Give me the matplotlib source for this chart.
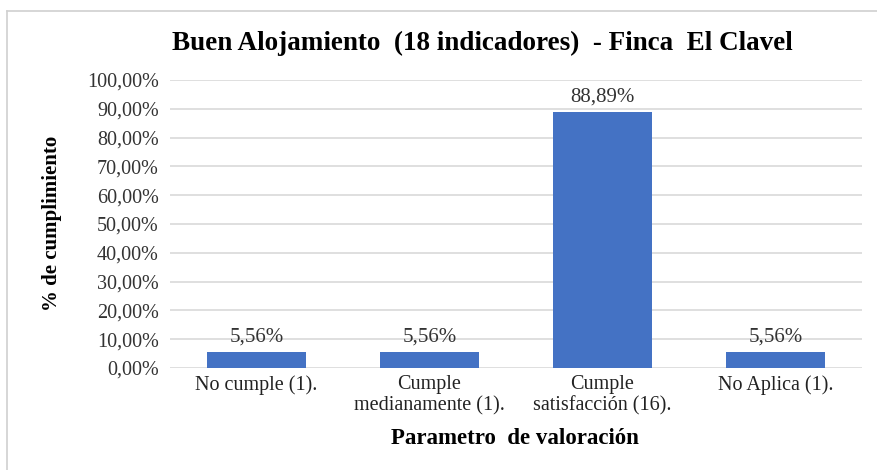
import matplotlib.pyplot as plt
import matplotlib
from matplotlib.lines import Line2D
from matplotlib.ticker import FuncFormatter

matplotlib.rcParams['font.family'] = 'Liberation Serif'

categories = ["No cumple (1).", "Cumple\nmedianamente (1).",
              "Cumple\nsatisfacción (16).", "No Aplica (1)."]
values = [5.56, 5.56, 88.89, 5.56]
yticks = [0, 10, 20, 30, 40, 50, 60, 70, 80, 90, 100]

W, H = 878, 470
fig = plt.figure(figsize=(W / 100, H / 100), dpi=100)
ax = fig.add_axes([170 / W, 1 - 368 / H, 692 / W, 288 / H])

x = range(len(categories))
bars = ax.bar(x, values, width=0.57, color='#4472C4', zorder=3)

ax.set_ylim(0, 100)
ax.set_xlim(-0.5, len(categories) - 0.5)
ax.set_yticks(yticks)
ax.yaxis.set_major_formatter(FuncFormatter(lambda v, p: f"{v:.2f}%".replace('.', ',')))
ax.set_xticks(list(x))
ax.set_xticklabels(categories, fontsize=14.5, linespacing=1.15, color='#222222')
ax.tick_params(axis='y', labelsize=14.5, length=0, pad=8, colors='#333333')
ax.tick_params(axis='x', length=0, pad=5)
ax.grid(axis='y', color='#D9D9D9', linewidth=1.2, zorder=0)
for s in ax.spines.values():
    s.set_visible(False)

for b, v in zip(bars, values):
    ax.annotate(f"{v:.2f}%".replace('.', ','), (b.get_x() + b.get_width() / 2, v),
                xytext=(0, 4), textcoords='offset points', ha='center', va='bottom',
                fontsize=15, color='#333333')

fig.text(482 / W, 1 - 43 / H, "Buen Alojamiento  (18 indicadores)  - Finca  El Clavel",
         ha='center', va='center', fontsize=19.5, fontweight='bold')
fig.text(52 / W, 1 - 223 / H, "% de cumplimiento", rotation=90, ha='center', va='center',
         fontsize=15, fontweight='bold')
fig.text(515 / W, 1 - 438 / H, "Parametro  de valoración", ha='center', va='center',
         fontsize=16.5, fontweight='bold')

# light frame (top and left edges visible)
fig.add_artist(Line2D([7 / W, 1.0], [1 - 11 / H, 1 - 11 / H], transform=fig.transFigure,
                      color='#D0D0D0', linewidth=1.2))
fig.add_artist(Line2D([7 / W, 7 / W], [0, 1 - 11 / H], transform=fig.transFigure,
                      color='#D0D0D0', linewidth=1.2))

fig.savefig('out.png', dpi=100)
